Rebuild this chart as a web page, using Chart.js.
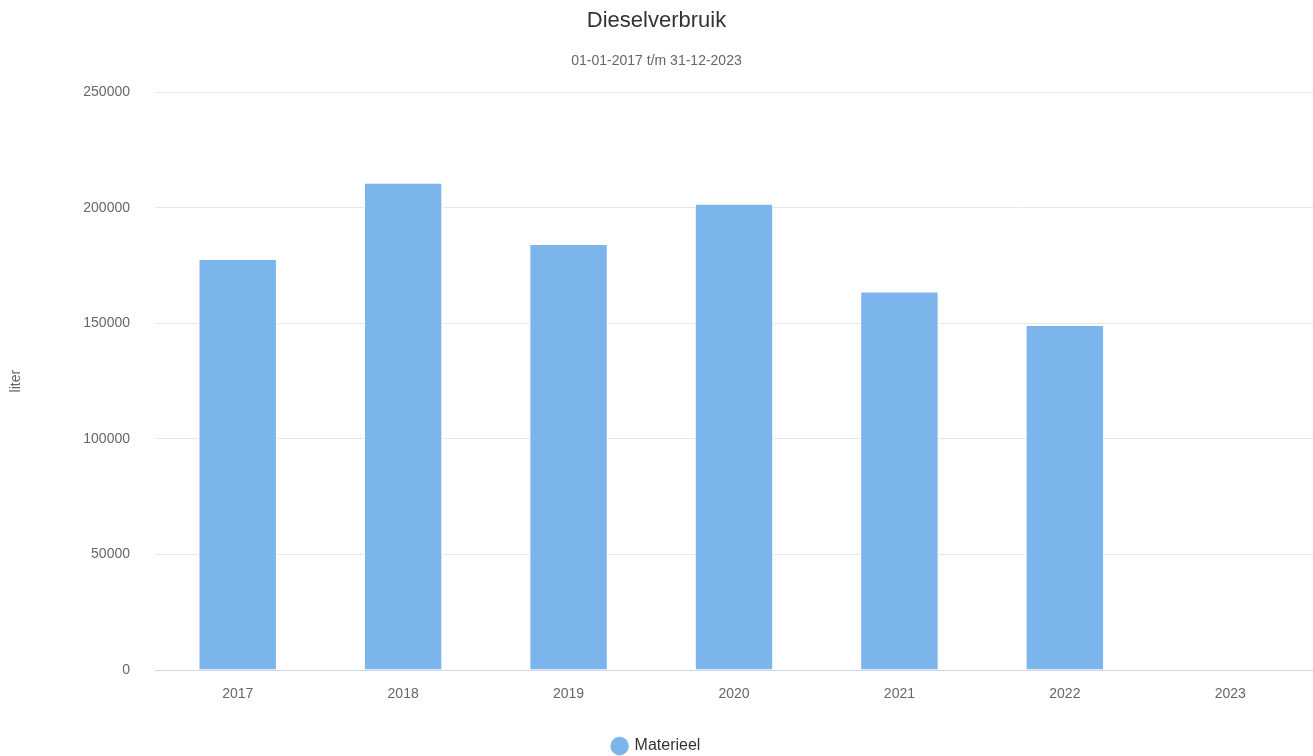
<!DOCTYPE html>
<html>
<head>
<meta charset="utf-8">
<script src="https://cdn.jsdelivr.net/npm/chart.js@4/dist/chart.umd.min.js"></script>
<style>
    html, body { margin: 0; padding: 0; background: #ffffff; }
    #wrap { width: 1313px; height: 756px; }
</style>
</head>
<body>
<div id="wrap"><canvas id="chart"></canvas></div>
<script>
const years = ['2017', '2018', '2019', '2020', '2021', '2022', '2023'];
const materieel = [178000, 211000, 184500, 202000, 164000, 149500, null];
const y_ticks = [0, 50000, 100000, 150000, 200000, 250000];

const FONT = 'Arial, "Liberation Sans", sans-serif';

const ctx = document.getElementById('chart');
new Chart(ctx, {
    type: 'bar',
    data: {
        labels: years,
        datasets: [{
            label: 'Materieel',
            data: materieel,
            backgroundColor: '#7cb5ec',
            borderColor: 'rgba(255,255,255,0.9)',
            borderWidth: 1.5,
            categoryPercentage: 1.0,
            barPercentage: 0.48,
        }]
    },
    options: {
        responsive: true,
        maintainAspectRatio: false,
        animation: false,
        layout: { padding: { left: 0, right: 0, top: 0, bottom: -8 } },
        plugins: {
            title: {
                display: true,
                text: 'Dieselverbruik',
                color: '#333333',
                font: { family: FONT, size: 22, weight: 'normal' },
                padding: { top: 8, bottom: 8 },
            },
            subtitle: {
                display: true,
                text: '01-01-2017 t/m 31-12-2023',
                color: '#666666',
                font: { family: FONT, size: 14, weight: 'normal' },
                padding: { top: 10, bottom: 23 },
            },
            legend: {
                position: 'bottom',
                labels: {
                    usePointStyle: true,
                    pointStyle: 'circle',
                    boxWidth: 14,
                    boxHeight: 14,
                    color: '#333333',
                    font: { family: FONT, size: 16 },
                    padding: 4,
                },
            },
            tooltip: { enabled: false },
        },
        scales: {
            x: {
                grid: { display: false, drawTicks: false },
                border: { display: true, color: '#ccd6eb', width: 1 },
                afterFit: (axis) => { axis.height = 64; },
                ticks: {
                    color: '#666666',
                    font: { family: FONT, size: 14 },
                    padding: 16,
                },
            },
            y: {
                min: 0,
                max: 250000,
                afterBuildTicks: (axis) => {
                    axis.ticks = y_ticks.map(v => ({ value: v }));
                },
                afterFit: (axis) => { axis.width = 155; },
                grid: { color: '#e6e6e6', drawTicks: false },
                border: { display: false },
                ticks: {
                    color: '#666666',
                    font: { family: FONT, size: 14 },
                    padding: 25,
                    callback: (value) => String(value),
                },
                title: {
                    display: true,
                    text: 'liter',
                    color: '#666666',
                    font: { family: FONT, size: 14 },
                    padding: { top: 8, bottom: 0 },
                },
            },
        },
    },
});
</script>
</body>
</html>
